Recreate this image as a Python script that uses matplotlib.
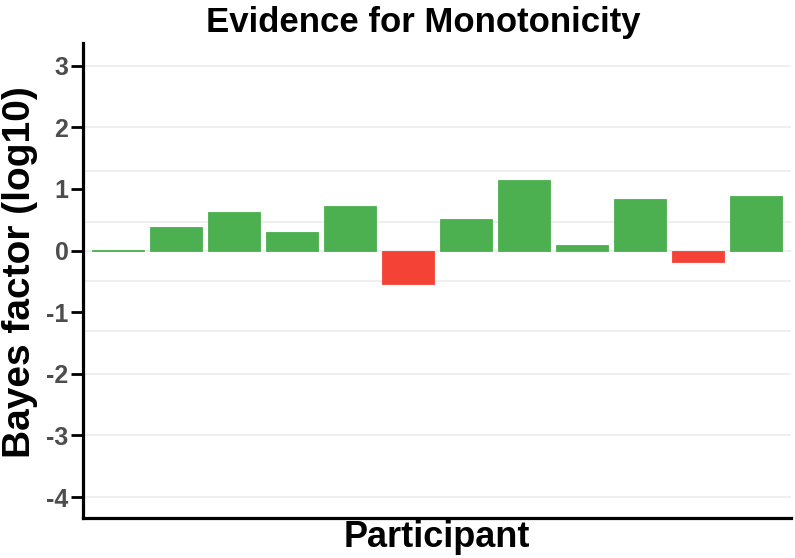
import matplotlib
matplotlib.use('Agg')
import matplotlib.pyplot as plt
import numpy as np

participants = list(range(1, 13))
bayes_log10 = [0.01, 0.38, 0.63, 0.30, 0.72, -0.54, 0.52, 1.14, 0.09, 0.83, -0.18, 0.89]
grid_levels = [3, 2, 1.3, 0.47, 0, -0.49, -1.3, -2, -3, -4]
y_ticks = [-4, -3, -2, -1, 0, 1, 2, 3]

plt.rcParams['font.family'] = ['Liberation Sans', 'DejaVu Sans']

fig = plt.figure(figsize=(7.95, 5.58), dpi=100)
ax = fig.add_axes([0.1044, 0.0717, 0.8906, 0.8513])

for g in grid_levels:
    ax.axhline(g, color='#EBEBEB', lw=1.1, zorder=0)

colors = ['#4CAF50' if v >= 0 else '#F44336' for v in bayes_log10]
ax.bar(participants, bayes_log10, width=0.9, color=colors,
       edgecolor=colors, linewidth=0.6, zorder=2)

ax.set_xlim(0.4, 12.6)
ax.set_ylim(-4.34, 3.37)
ax.set_yticks(y_ticks)
ax.set_yticklabels([str(t) for t in y_ticks], fontsize=18, fontweight='bold', color='#4D4D4D')
ax.set_xticks([])

for side in ['top', 'right']:
    ax.spines[side].set_visible(False)
for side in ['left', 'bottom']:
    ax.spines[side].set_linewidth(2.3)
    ax.spines[side].set_color('black')
ax.tick_params(axis='y', length=9, width=2, color='black', pad=1.5)

ax.set_xlabel('Participant', fontsize=26, fontweight='bold')
ax.xaxis.label.set_va('baseline')
ax.xaxis.set_label_coords(0.5, -0.061)

ax.set_ylabel('Bayes factor (log10)', fontsize=28, fontweight='bold')
ax.yaxis.set_label_coords(-0.064, 0.517)

fig.text(0.533, 0.9427, 'Evidence for Monotonicity', fontsize=25, fontweight='bold',
         ha='center', va='baseline')

fig.savefig('out.png', dpi=100)
